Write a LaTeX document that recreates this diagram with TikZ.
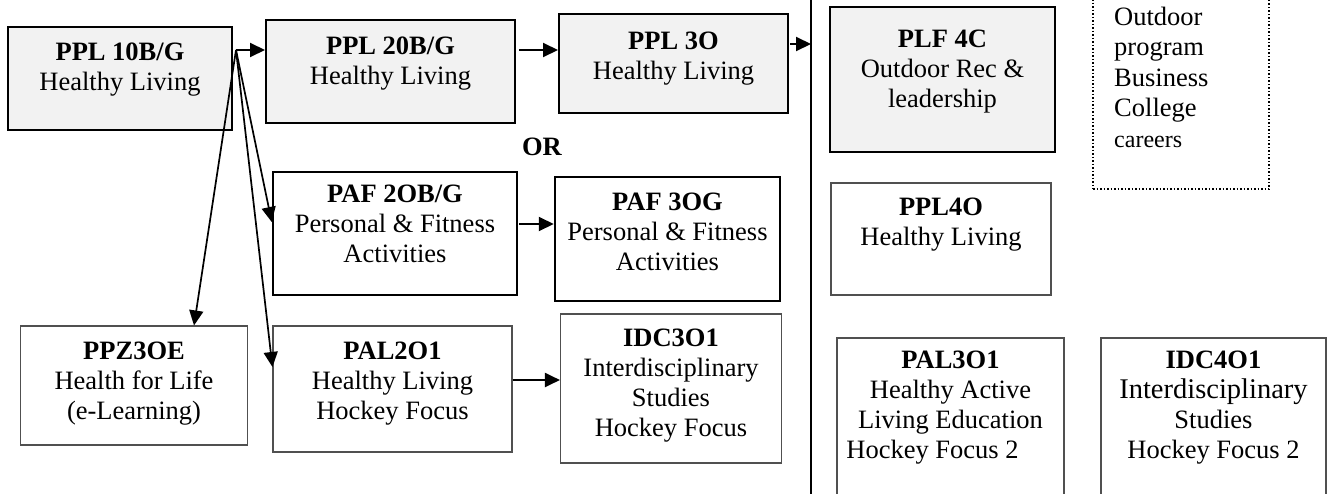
\documentclass[tikz,border=0pt]{standalone}
\usepackage{fontspec}
\setmainfont{Liberation Serif}
\usetikzlibrary{arrows.meta,calc}
\definecolor{boxgray}{HTML}{F2F2F2}
\definecolor{edgegray}{HTML}{505050}
% invisible strut that fixes the height of the first text line
\newcommand\tstrut{\rule{0pt}{20pt}}
\begin{document}
\begin{tikzpicture}[x=1pt,y=-1pt,
  graybox/.style={draw=black, line width=2pt, fill=boxgray, inner sep=0pt},
  heavybox/.style={draw=black, line width=2.5pt, fill=white, inner sep=0pt},
  thinbox/.style={draw=edgegray, line width=1.1pt, fill=white, inner sep=0pt},
  dotbox/.style={draw=black, line width=1.5pt, dotted, inner sep=0pt},
  txt/.style={anchor=north, align=center, inner sep=0pt, font=\fontsize{26.5}{30}\selectfont},
  arr/.style={line width=2pt, -{Triangle[length=15pt,width=14pt]}},
  fanline/.style={line width=1.7pt, -{Triangle[length=15pt,width=14pt]}}]
\clip (0,0) rectangle (1334,493);
\fill[white] (0,0) rectangle (1334,493);

% grade 9-11 healthy living track
\node[graybox, minimum width=224pt, minimum height=103pt] (ppl10) at (120,78.5) {};
\node[txt] (ppl10t) at ([yshift=-14pt]ppl10.north) {\tstrut\textbf{PPL 10B/G}\\Healthy Living};
\node[graybox, minimum width=249pt, minimum height=103pt] (ppl20) at (390.5,71.5) {};
\node[txt] (ppl20t) at ([yshift=-15pt]ppl20.north) {\tstrut\textbf{PPL 20B/G}\\Healthy Living};
\node[graybox, minimum width=229pt, minimum height=99pt] (ppl3o) at (673.5,63.5) {};
\node[txt] (ppl3ot) at ([yshift=-16pt]ppl3o.north) {\tstrut\textbf{PPL 3O}\\Healthy Living};

\node[font=\bfseries\fontsize{26.5}{30}\selectfont, anchor=base, inner sep=0pt] (or) at (542,155) {OR};

% fitness track
\node[heavybox, minimum width=244pt, minimum height=123pt] (paf2) at (395,233.5) {};
\node[txt] (paf2t) at ([yshift=-12pt]paf2.north) {\tstrut\textbf{PAF 2OB/G}\\Personal \& Fitness\\Activities};
\node[heavybox, minimum width=225pt, minimum height=124pt] (paf3) at (667.5,239) {};
\node[txt] (paf3t) at ([yshift=-15pt]paf3.north) {\tstrut\textbf{PAF 3OG}\\Personal \& Fitness\\Activities};

% e-learning and hockey track
\node[thinbox, minimum width=227pt, minimum height=119pt] (ppz) at (134,385.5) {};
\node[txt] (ppzt) at ([yshift=-14pt]ppz.north) {\tstrut\textbf{PPZ3OE}\\Health for Life\\(e-Learning)};
\node[thinbox, minimum width=239pt, minimum height=126pt] (pal2) at (392.5,389) {};
\node[txt] (pal2t) at ([yshift=-14pt]pal2.north) {\tstrut\textbf{PAL2O1}\\Healthy Living\\Hockey Focus};
\node[thinbox, minimum width=221pt, minimum height=149pt] (idc3) at (671,388.5) {};
\node[txt] (idc3t) at ([yshift=-13pt]idc3.north) {\tstrut\textbf{IDC3O1}\\Interdisciplinary\\Studies\\Hockey Focus};

% grade 12 column
\node[graybox, minimum width=225pt, minimum height=145pt] (plf) at (942.5,79.5) {};
\node[txt] (plft) at ([yshift=-21pt]plf.north) {\tstrut\textbf{PLF 4C}\\Outdoor Rec \&\\leadership};
\node[dotbox, minimum width=176pt, minimum height=199pt] (career) at (1181,89.5) {};
\node[anchor=north west, align=left, inner sep=0pt, font=\fontsize{26.5}{30.5}\selectfont] (careert) at (1114,5)
  {\tstrut Outdoor\\program\\Business\\College\\{\fontsize{24}{28}\selectfont careers}};
\node[thinbox, minimum width=220pt, minimum height=112pt] (ppl4o) at (941,239) {};
\node[txt] (ppl4ot) at ([yshift=-13pt]ppl4o.north) {\tstrut\textbf{PPL4O}\\Healthy Living};
\node[thinbox, minimum width=227pt, minimum height=172pt] (pal3) at (950.5,424) {};
\node[txt] (pal3t) at ([yshift=-11pt]pal3.north) {\tstrut\textbf{PAL3O1}\\Healthy Active\\Living Education\\Hockey Focus 2\hspace*{36pt}};
\node[thinbox, minimum width=225pt, minimum height=172pt] (idc4) at (1213.5,424) {};
\node[txt] (idc4t) at ([yshift=-11pt]idc4.north) {\tstrut\textbf{IDC4O1}\\{\fontsize{28.5}{30}\selectfont Interdisciplinary}\\Studies\\Hockey Focus 2};

% divider between grade 11 and grade 12
\coordinate (divtop) at (811,-5);
\coordinate (divbot) at (811,500);
\draw[line width=2pt] (divtop) -- (divbot);
\coordinate (gate) at (811,44);

% connectors
\coordinate (fan) at (236,50);
\draw[arr] (fan) -- ([yshift=21.5pt]ppl20.west);
\draw[fanline] (fan) -- ([yshift=11.5pt]paf2.west);
\draw[fanline] (fan) -- ([xshift=60pt]ppz.north);
\draw[fanline] (fan) -- ([yshift=22pt]pal2.west);
\draw[arr] ([xshift=3pt,yshift=21.5pt]ppl20.east) -- ([yshift=13.5pt]ppl3o.west);
\draw[arr] ([xshift=1pt,yshift=19.5pt]ppl3o.east) -- (gate);
\draw[arr] ([xshift=1pt,yshift=9.5pt]paf2.east) -- ([yshift=15pt]paf3.west);
\draw[arr] ([yshift=9pt]pal2.east) -- ([yshift=8.5pt]idc3.west);
\end{tikzpicture}
\end{document}
